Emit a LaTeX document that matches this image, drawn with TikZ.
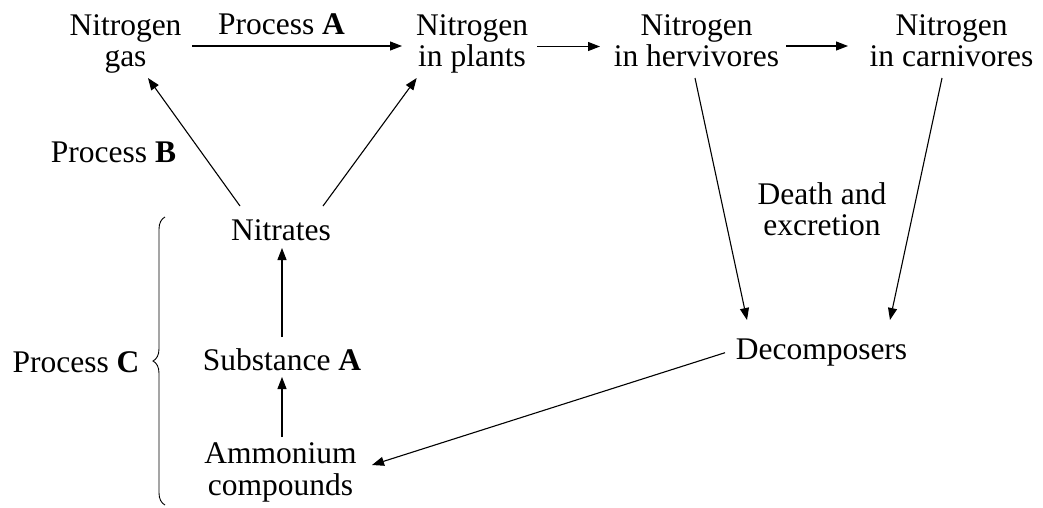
\documentclass[tikz,border=0pt]{standalone}
\usepackage{fontspec}
\setmainfont{Liberation Serif}
\usetikzlibrary{arrows.meta,calc,decorations.pathreplacing}
\begin{document}
\begin{tikzpicture}[x=1pt,y=-1pt,
  lbl/.style={inner sep=0pt,align=center,font=\fontsize{31.5}{31.5}\selectfont},
  arr/.style={line width=1.1pt,-{Triangle[length=12pt,width=9pt]}}]
\useasboundingbox (0,0) rectangle (1043,507);

% nodes of the cycle
\node[lbl,anchor=north] (gas)    at (125.5,14) {Nitrogen\\gas};
\node[lbl,anchor=north] (plants) at (472,14)   {Nitrogen\\in plants};
\node[lbl,anchor=north] (herv)   at (696.5,14) {Nitrogen\\in hervivores};
\node[lbl,anchor=north] (carn)   at (951.5,14) {Nitrogen\\in carnivores};
\node[lbl,anchor=base]  (procA)  at (281.5,34)   {Process \textbf{A}};
\node[lbl,anchor=base]  (procB)  at (113.5,162)  {Process \textbf{B}};
\node[lbl,anchor=base]  (nit)    at (281,240)    {Nitrates};
\node[lbl,anchor=base]  (subst)  at (282,370)    {Substance \textbf{A}};
\node[lbl,anchor=north] (amm)    at (280.5,442.5){Ammonium\\compounds};
\node[lbl,anchor=base]  (procC)  at (76,372)     {Process \textbf{C}};
\node[lbl,anchor=base]  (decomp) at (821.5,359)  {Decomposers};
\node[lbl,anchor=north] (death)  at (822,182)    {Death and\\excretion};

% brace grouping the steps of process C
\draw[line width=0.9pt,decorate,decoration={brace,amplitude=12pt}]
  ($(procC.base)+(89,133)$) -- ($(procC.base)+(89,-155)$);

% connectors
\draw[arr] ($(gas.north)+(66.5,32)$) -- ($(plants.north)+(-70,32)$);
\draw[arr] ($(plants.north)+(65,32.5)$) -- ($(herv.north)+(-96.5,32.5)$);
\draw[arr] ($(herv.north)+(89.5,32)$) -- ($(carn.north)+(-103.5,32)$);
\draw[arr] ($(nit.base)+(-41,-34)$) -- ($(gas.north)+(22.5,64)$);
\draw[arr] ($(nit.base)+(42,-34)$) -- ($(plants.north)+(-55.3,64)$);
\draw[arr] ($(subst.base)+(0,-33)$) -- ($(nit.base)+(1,8)$);
\draw[arr] ($(amm.north)+(1.5,-5.5)$) -- ($(subst.base)+(0,7)$);
\draw[arr] ($(herv.north)+(-1.5,64)$) -- ($(decomp.base)+(-74.5,-39)$);
\draw[arr] ($(carn.north)+(-9.5,64)$) -- ($(decomp.base)+(68.5,-39)$);
\draw[arr] ($(decomp.base)+(-96.5,-6.3)$) -- ($(amm.north)+(91.5,22.5)$);
\end{tikzpicture}
\end{document}
